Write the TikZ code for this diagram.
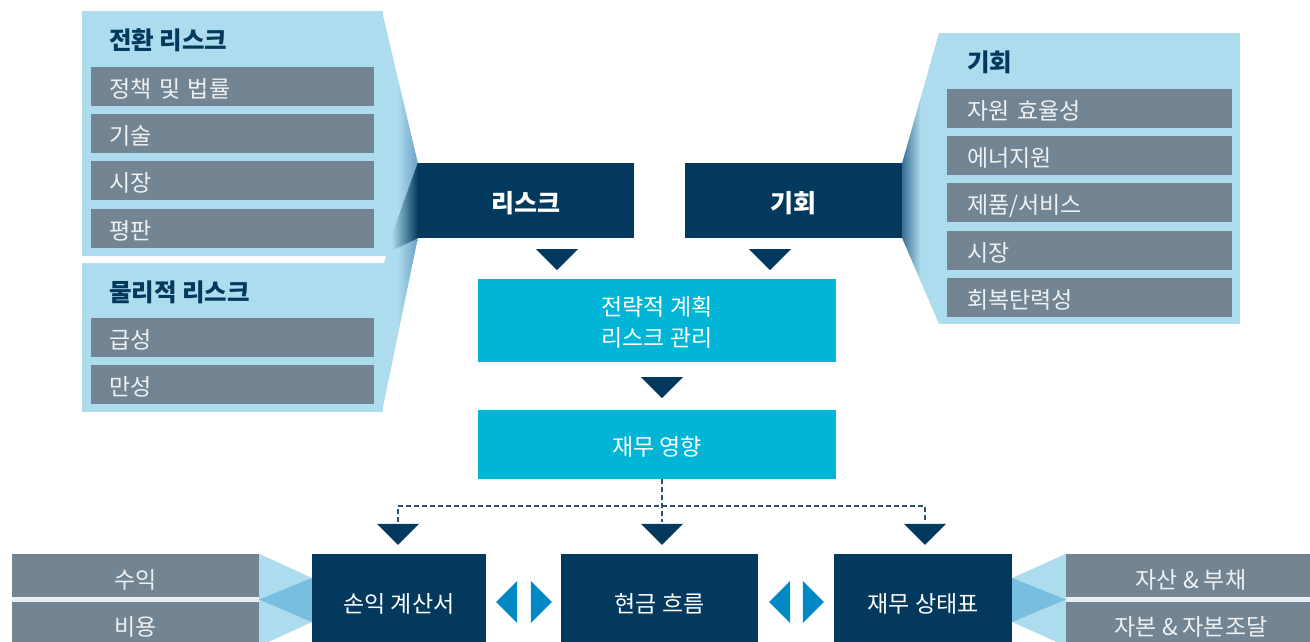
\documentclass[tikz,border=0pt]{standalone}
\usepackage{fontspec}
\setmainfont{Noto Sans CJK KR}
\usepackage{tikz}
\usetikzlibrary{calc}

\definecolor{navy}{RGB}{2,57,93}
\definecolor{cyanbox}{RGB}{0,181,214}
\definecolor{panelblue}{RGB}{173,220,238}
\definecolor{wedgeblue}{RGB}{120,190,224}
\definecolor{funnelmid}{RGB}{105,160,195}
\definecolor{funnelsteel}{RGB}{60,110,150}
\definecolor{tipblue}{RGB}{0,137,196}
\definecolor{rowgrey}{RGB}{115,133,146}
\definecolor{rowtext}{RGB}{238,241,243}
\definecolor{sepgrey}{RGB}{232,238,242}
\definecolor{dashcol}{RGB}{50,80,110}

\pgfdeclarehorizontalshading{funnellight}{100bp}{color(0bp)=(panelblue); color(47bp)=(panelblue); color(75bp)=(funnelmid); color(100bp)=(funnelmid)}
\pgfdeclarehorizontalshading{funneldark}{100bp}{color(0bp)=(panelblue); color(35bp)=(panelblue); color(75bp)=(navy); color(100bp)=(navy)}
\pgfdeclarehorizontalshading{funnelright}{100bp}{color(0bp)=(funnelsteel); color(25bp)=(funnelsteel); color(50bp)=(panelblue); color(100bp)=(panelblue)}

\newcommand{\bodyfont}{\fontsize{23pt}{27pt}\selectfont}
\newcommand{\headfont}{\fontsize{24.5pt}{28pt}\selectfont\bfseries}
\newcommand{\boxheadfont}{\fontsize{25pt}{29pt}\selectfont\bfseries}
\newcommand{\downtip}[1]{\fill[navy] #1 -- ++(21,0) -- ++(-21,21) -- ++(-21,-21) -- cycle;}
\newcommand{\lefttip}[1]{\fill[tipblue] #1 -- ++(21,-21) -- ++(0,42) -- cycle;}
\newcommand{\righttip}[1]{\fill[tipblue] #1 -- ++(-21,-21) -- ++(0,42) -- cycle;}

\tikzset{
    low text/.style={text height=#1, text depth=0pt},
    low text/.default=21.6pt,
    box/.style={inner sep=0pt, align=center, low text},
    dark box/.style={box, fill=navy, text=white},
    cyan box/.style={box, fill=cyanbox, text=white},
    grey row/.style={fill=rowgrey, text=rowtext, anchor=north west, inner ysep=0pt, minimum height=38.5pt, align=left, low text},
    left row/.style={grey row, inner xsep=18pt, text width=247pt},
    right row/.style={grey row, inner xsep=20pt, text width=245pt},
    flow row/.style={fill=rowgrey, text=rowtext, inner sep=0pt, align=center, low text=26.6pt},
    panel head/.style={anchor=west, inner sep=0pt, text=navy, font=\headfont},
    dash line/.style={dashcol, line width=1.3pt, dash pattern=on 4.5pt off 3.5pt},
}
\tikzstyle{every node}=[font=\bodyfont]

\begin{document}
\begin{tikzpicture}[x=1pt, y=-1pt]
    \useasboundingbox (0,0) rectangle (1310,642);
    \clip (0,0) rectangle (1310,642);

    % risk and opportunity
    \node[dark box, minimum width=216pt, minimum height=75pt, font=\boxheadfont, low text=23.2pt] (risk) at (526,200.5) {리스크};
    \node[dark box, minimum width=217pt, minimum height=75pt, font=\boxheadfont, low text=23.2pt] (opp) at (793.5,200.5) {기회};

    % left panels
    \fill[panelblue] (82,11) rectangle (383,412);
    \shade[shading=funnellight] (382,11) -- (risk.north west) -- (risk.south west) -- (382,412) -- cycle;
    \shade[shading=funneldark] (385,254) -- (risk.north west) -- (risk.south west) -- cycle;
    \fill[white] (82,256) -- (386,256) -- (384,263) -- (82,263) -- cycle;

    \node[panel head] (transhead) at (109,40) {전환 리스크};
    \node[left row] (policy) at (91,67) {정책 및 법률};
    \node[left row] (tech) at (91,114) {기술};
    \node[left row] (market) at (91,161) {시장};
    \node[left row] (reput) at (91,209) {평판};

    \node[panel head] (physhead) at (109,292) {물리적 리스크};
    \node[left row] (acute) at (91,318) {급성};
    \node[left row] (chronic) at (91,365) {만성};

    % right panel
    \fill[panelblue] (939,33) rectangle (1240,324);
    \shade[shading=funnelright] (opp.north east) -- (939,33) -- (939,324) -- (opp.south east) -- cycle;

    \node[panel head] (opphead) at (967,62) {기회};
    \node[right row] (resource) at (947,89) {자원 효율성};
    \node[right row] (energy) at (947,136) {에너지원};
    \node[right row] (product) at (947,183) {제품/서비스};
    \node[right row] (market2) at (947,231) {시장};
    \node[right row] (resil) at (947,278) {회복탄력성};

    % strategy and impact
    \node[cyan box, minimum width=358pt, minimum height=83pt, font=\fontsize{23pt}{31pt}\selectfont, low text=52.6pt] (strat) at (657,320.5) {전략적 계획\\리스크 관리};
    \node[cyan box, minimum width=358pt, minimum height=69pt] (impact) at (657,444.5) {재무 영향};

    \coordinate (risktip) at ($(risk.south)+(31,11)$);
    \coordinate (opptip) at ($(opp.south)+(-23.5,11)$);
    \coordinate (strattip) at ($(strat.south)+(5,15)$);
    \downtip{(risktip)}
    \downtip{(opptip)}
    \downtip{(strattip)}

    % statements
    \node[dark box, minimum width=174pt, minimum height=98pt, low text=18pt] (pl) at (399,603) {손익 계산서};
    \node[dark box, minimum width=197pt, minimum height=98pt, low text=18pt] (cash) at (659.5,603) {현금 흐름};
    \node[dark box, minimum width=178pt, minimum height=98pt, low text=18pt] (bal) at (923,603) {재무 상태표};

    \coordinate (pltip) at ($(pl.north)+(-1,-30)$);
    \coordinate (cashtip) at ($(cash.north)+(2.5,-30)$);
    \coordinate (baltip) at ($(bal.north)+(2,-30)$);
    \coordinate (split) at (cashtip |- 0,506);
    \draw[dash line] (impact.south -| cashtip) -- ($(cashtip)+(0,-2)$);
    \draw[dash line] ($(pltip)+(0,-2)$) |- (split) -| ($(baltip)+(0,-2)$);
    \downtip{(pltip)}
    \downtip{(cashtip)}
    \downtip{(baltip)}

    \lefttip{($(pl.east)+(10,-1)$)}
    \righttip{($(cash.west)+(-9,-1)$)}
    \lefttip{($(cash.east)+(11,-1)$)}
    \righttip{($(bal.west)+(-10,-1)$)}

    % income rows
    \fill[sepgrey] (12,596) rectangle (262,603);
    \node[flow row, minimum width=247pt, minimum height=43pt] (revenue) at (135.5,575.5) {수익};
    \node[flow row, minimum width=247pt, minimum height=40pt] (cost) at (135.5,622) {비용};
    \coordinate (pltop) at ($(pl.west)+(0,-25)$);
    \coordinate (plbot) at ($(pl.west)+(0,19)$);
    \fill[panelblue] (revenue.north east) -- (pltop) -- (plbot) -- ($(cost.south east)+(0,4)$) -- cycle;
    \fill[wedgeblue] ($(revenue.south east)!0.5!(cost.north east)$) -- (pltop) -- (plbot) -- cycle;

    % balance rows
    \fill[sepgrey] (1064,596) rectangle (1310,603);
    \node[flow row, minimum width=250pt, minimum height=43pt] (asset) at (1191,575.5) {자산 \& 부채};
    \node[flow row, minimum width=250pt, minimum height=40pt] (equity) at (1191,622) {자본 \& 자본조달};
    \coordinate (baltop) at ($(bal.east)+(0,-25)$);
    \coordinate (balbot) at ($(bal.east)+(0,19)$);
    \fill[panelblue] (baltop) -- (asset.north west) -- ($(equity.south west)+(0,4)$) -- (balbot) -- cycle;
    \fill[wedgeblue] (baltop) -- ($(asset.south west)!0.5!(equity.north west)$) -- (balbot) -- cycle;
\end{tikzpicture}
\end{document}
